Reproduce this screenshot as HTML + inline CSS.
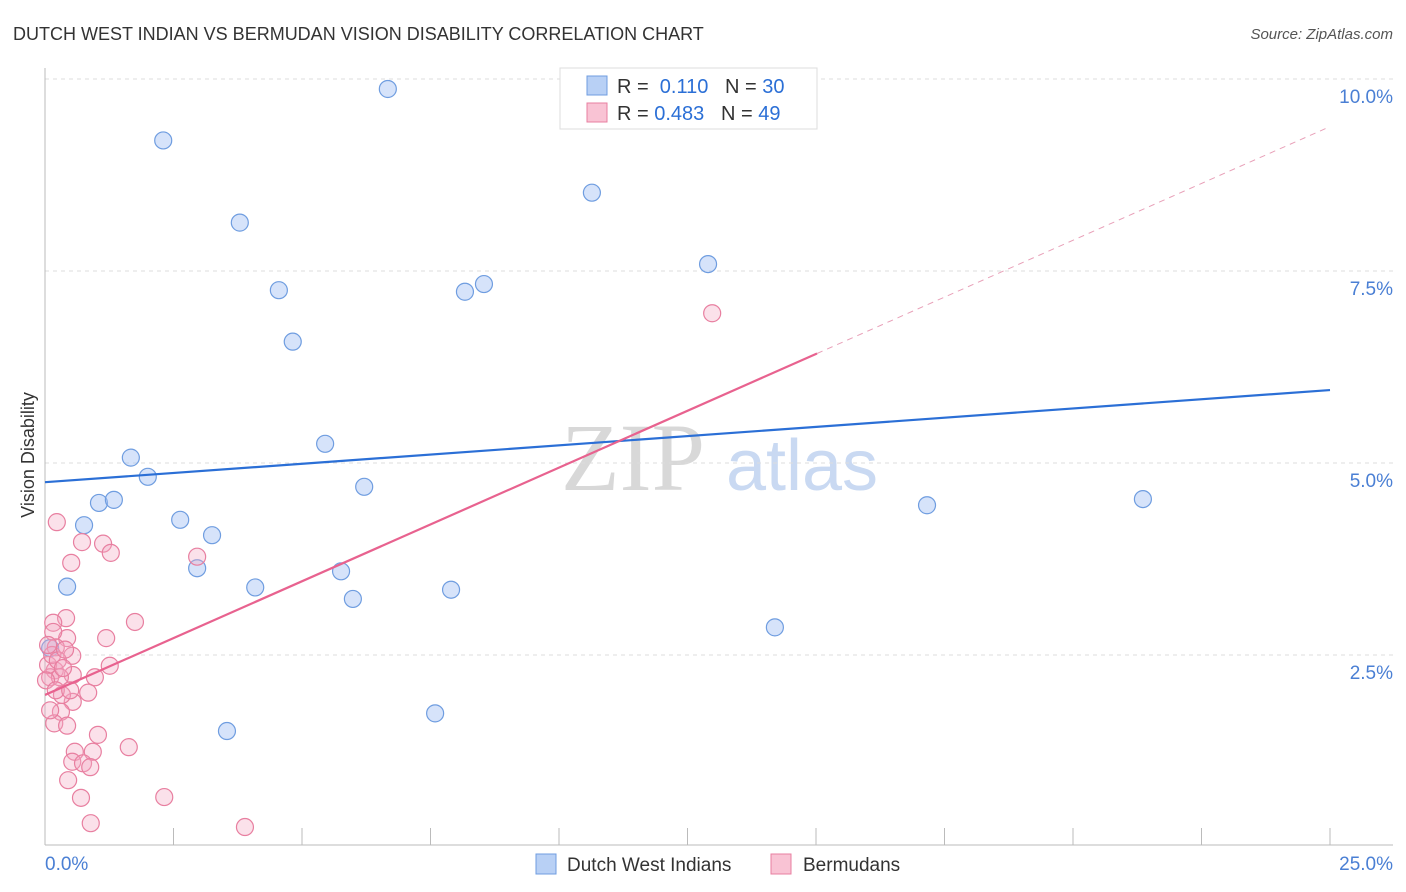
<!DOCTYPE html>
<html><head><meta charset="utf-8"><style>
body{margin:0;background:#fff;font-family:"Liberation Sans",sans-serif;}
#wrap{position:relative;width:1406px;height:892px;overflow:hidden;}
</style></head><body><div id="wrap">
<svg id="svg" width="1406" height="892" xmlns="http://www.w3.org/2000/svg">
<text x="13" y="40" font-size="18" fill="#333">DUTCH WEST INDIAN VS BERMUDAN VISION DISABILITY CORRELATION CHART</text>
<text x="1393" y="39" font-size="15" fill="#555" font-style="italic" text-anchor="end">Source: ZipAtlas.com</text>
<text x="633" y="490" font-size="96" fill="#d8d8d8" font-family="Liberation Serif,serif" text-anchor="middle">ZIP</text>
<text x="802" y="490" font-size="72" fill="#c9d9f2" text-anchor="middle">atlas</text>
<text transform="translate(34,455) rotate(-90)" font-size="18" fill="#333" text-anchor="middle">Vision Disability</text>
<g id="grid"></g><g id="axes"></g><g id="pts"></g><g id="lines"></g>
<g>
<rect x="560" y="68" width="257" height="61" fill="#fff" stroke="#ddd"/>
<rect x="587" y="76" width="20" height="19" fill="#b8d0f5" stroke="#6f9de0"/>
<rect x="587" y="103" width="20" height="19" fill="#f9c3d4" stroke="#e87fa0"/>
<text x="617" y="93" font-size="20" fill="#333">R = <tspan fill="#2b6fd6">&#160;0.110</tspan>&#160;&#160;&#160;N = <tspan fill="#2b6fd6">30</tspan></text>
<text x="617" y="120" font-size="20" fill="#333">R = <tspan fill="#2b6fd6">0.483</tspan>&#160;&#160;&#160;N = <tspan fill="#2b6fd6">49</tspan></text>
</g>
<g>
<rect x="536" y="854" width="20" height="20" fill="#b8d0f5" stroke="#6f9de0"/>
<text x="567" y="871" font-size="19" fill="#333">Dutch West Indians</text>
<rect x="771" y="854" width="20" height="20" fill="#f9c3d4" stroke="#e87fa0"/>
<text x="803" y="871" font-size="19" fill="#333">Bermudans</text>
</g>
</svg>
<script>
const blueX=[6.67,2.30,3.79,10.64,12.90,4.55,8.17,8.54,4.82,5.45,1.67,2.00,6.21,1.05,1.34,0.76,2.63,3.25,2.96,0.43,4.09,5.76,5.99,7.90,14.20,7.59,3.54,17.16,21.36,0.10];
const blueY=[9.87,9.20,8.13,8.52,7.59,7.25,7.23,7.33,6.58,5.25,5.07,4.82,4.69,4.48,4.52,4.19,4.26,4.06,3.63,3.39,3.38,3.59,3.23,3.35,2.86,1.74,1.51,4.45,4.53,2.59];
const pinkX=[0.23,0.72,1.13,1.28,0.51,2.96,1.75,0.41,0.16,0.43,1.19,0.16,0.21,0.53,1.26,0.97,0.54,0.19,0.10,0.29,0.84,0.54,0.33,0.31,0.18,0.43,1.03,1.63,0.58,0.93,0.53,0.74,0.88,0.45,0.70,2.32,0.89,12.98,3.89,0.06,0.14,0.02,0.25,0.35,0.06,0.21,0.39,0.10,0.49];
const pinkY=[4.23,3.97,3.95,3.83,3.70,3.78,2.93,2.98,2.92,2.72,2.72,2.80,2.60,2.49,2.36,2.21,2.24,2.30,2.21,2.21,2.01,1.89,1.98,1.76,1.61,1.58,1.46,1.30,1.24,1.24,1.11,1.09,1.04,0.87,0.64,0.65,0.31,6.95,0.26,2.37,2.50,2.17,2.43,2.33,2.63,2.04,2.57,1.78,2.04];
const blueTrend=[4.75,5.95];
const pinkTrend=[1.98,9.38];
const pinkSolidEnd=15.02;
const yTicks=[2.5,5.0,7.5,10.0];
const yTickLabels=["2.5%","5.0%","7.5%","10.0%"];
const xTicks=[0,2.5,5,7.5,10,12.5,15,17.5,20,22.5,25];
const NS="http://www.w3.org/2000/svg";
const sx=v=>45+v*51.4, sy=v=>847-v*76.8;
function mk(tag,a,p){const e=document.createElementNS(NS,tag);for(const k in a)e.setAttribute(k,a[k]);p.appendChild(e);return e;}
const grid=document.getElementById('grid'),axes=document.getElementById('axes'),pts=document.getElementById('pts'),lines=document.getElementById('lines');
yTicks.forEach((t,i)=>{
 const l=mk('line',{x1:45,x2:1393,y1:sy(t),y2:sy(t),stroke:'#ddd','stroke-dasharray':'4,4'},grid);
 
 
 const tx=mk('text',{x:1393,y:sy(t)+24,'font-size':19,fill:'#4a7fd4','text-anchor':'end'},grid);
 tx.textContent=yTickLabels[i];
 
 
});
const ya=mk('line',{x1:45,x2:45,y1:68,y2:845,stroke:'#bbb'},axes);


const xa=mk('line',{x1:45,x2:1393,y1:845,y2:845,stroke:'#bbb'},axes);


xTicks.forEach(t=>{const l=mk('line',{x1:sx(t),x2:sx(t),y1:828,y2:845,stroke:'#bbb'},axes);
 
 });
const x0=mk('text',{x:45,y:870,'font-size':19,fill:'#4a7fd4'},axes);x0.textContent=xTicks[0].toFixed(1)+'%';


const x1=mk('text',{x:1393,y:870,'font-size':19,fill:'#4a7fd4','text-anchor':'end'},axes);x1.textContent=xTicks[xTicks.length-1].toFixed(1)+'%';


blueX.forEach((x,i)=>{const c=mk('circle',{cx:sx(x),cy:sy(blueY[i]),r:8.5,fill:'rgba(164,194,244,0.45)',stroke:'#6f9de0','stroke-width':1.2},pts);
 
 });
pinkX.forEach((x,i)=>{const c=mk('circle',{cx:sx(x),cy:sy(pinkY[i]),r:8.5,fill:'rgba(244,170,195,0.35)',stroke:'#e87fa0','stroke-width':1.2},pts);
 
 });
const bl=mk('line',{x1:sx(0),y1:sy(blueTrend[0]),x2:sx(25),y2:sy(blueTrend[1]),stroke:'#2b6fd6','stroke-width':2.2},lines);


const pAt=v=>pinkTrend[0]+(pinkTrend[1]-pinkTrend[0])*v/25;
const pl=mk('line',{x1:sx(0),y1:sy(pinkTrend[0]),x2:sx(pinkSolidEnd),y2:sy(pAt(pinkSolidEnd)),stroke:'#e8628f','stroke-width':2.2},lines);


const pd=mk('line',{x1:sx(pinkSolidEnd),y1:sy(pAt(pinkSolidEnd)),x2:sx(25),y2:sy(pinkTrend[1]),stroke:'#e8a0b8','stroke-width':1,'stroke-dasharray':'6,5'},lines);


</script>
</div></body></html>
